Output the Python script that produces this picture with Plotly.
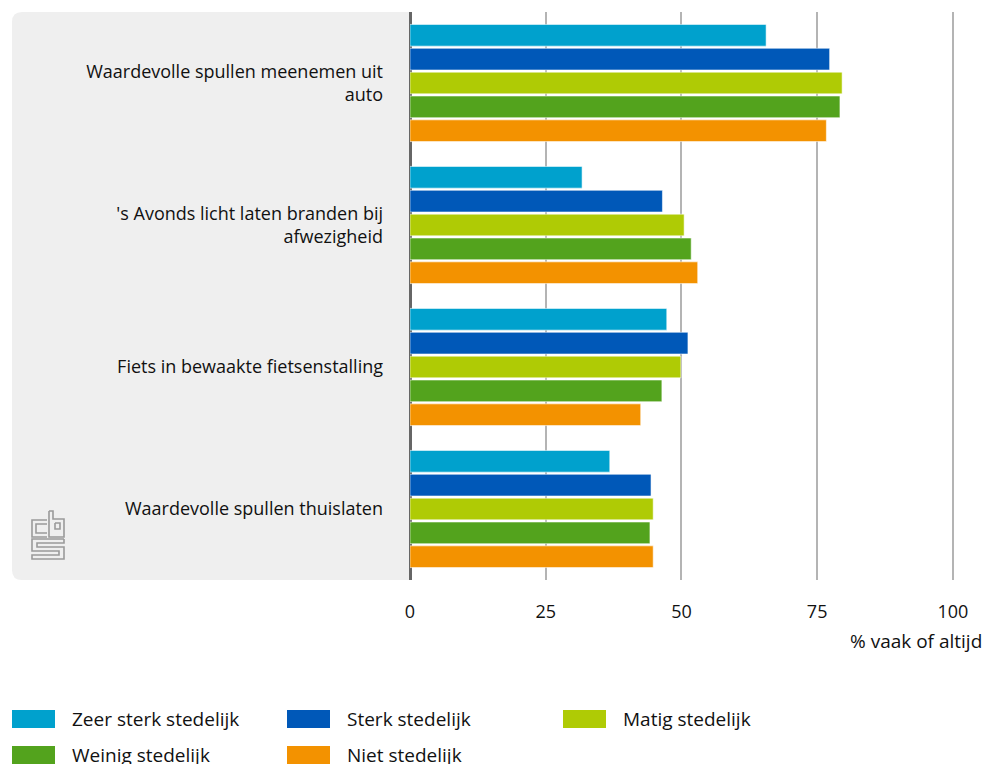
import plotly.graph_objects as go

# ---------------- data ----------------
categories = [
    "Waardevolle spullen meenemen uit<br>auto",
    "'s Avonds licht laten branden bij<br>afwezigheid",
    "Fiets in bewaakte fietsenstalling",
    "Waardevolle spullen thuislaten",
]
series_names = ["Zeer sterk stedelijk", "Sterk stedelijk", "Matig stedelijk",
                "Weinig stedelijk", "Niet stedelijk"]
zeer_sterk = [65.6, 31.7, 47.3, 36.8]
sterk = [77.3, 46.5, 51.2, 44.4]
matig = [79.6, 50.5, 49.9, 44.8]
weinig = [79.2, 51.8, 46.4, 44.2]
niet = [76.7, 53.0, 42.5, 44.8]
x_ticks = [0, 25, 50, 75, 100]
x_title = "% vaak of altijd"

series_values = [zeer_sterk, sterk, matig, weinig, niet]
colors = ["#00a1cd", "#0058b8", "#afcb05", "#53a31d", "#f39200"]

FONT = "Open Sans"
TXT = "#111111"
W, H = 992, 764
L, R, T, B = 410, 980, 12, 580


def px(x):
    return (x - L) / (R - L)


def py(y):
    return (B - y) / (B - T)


fig = go.Figure()
for name, vals, col in zip(series_names, series_values, colors):
    fig.add_trace(go.Bar(
        y=categories, x=vals, name=name, orientation="h",
        marker=dict(color=col, line=dict(color="rgba(255,255,255,0.55)", width=1)),
        showlegend=False,
        hovertemplate="%{y}<br>" + name + ": %{x}<extra></extra>",
    ))

shapes = []
# grey rounded panel behind category labels
r = 10
x0, x1, y0, y1 = px(12), px(L), py(T), py(B)
rx = r / (R - L)
ry = r / (B - T)
panel = (f"M {x1},{y0} L {x0 + rx},{y0} Q {x0},{y0} {x0},{y0 - ry} "
         f"L {x0},{y1 + ry} Q {x0},{y1} {x0 + rx},{y1} L {x1},{y1} Z")
shapes.append(dict(type="path", xref="paper", yref="paper", path=panel,
                   fillcolor="#efefef", line=dict(width=0), layer="below"))


def pathpx(pts):
    return "M " + " L ".join(f"{px(a)},{py(b)}" for a, b in pts)


logo_paths = [
    # c
    [(47, 520), (32, 520), (32, 537), (47, 537)],
    [(47, 524), (36, 524), (36, 533), (47, 533)],
    # b
    [(49, 511), (49, 537), (64, 537), (64, 519), (53, 519), (53, 511), (49, 511)],
    [(55, 523), (60, 523), (60, 529), (55, 529), (55, 523)],
    # s
    [(64, 539), (32, 539), (32, 551), (59, 551), (59, 555), (32, 555), (32, 559),
     (64, 559), (64, 547), (37, 547), (37, 543), (64, 543), (64, 539)],
]
for p in logo_paths:
    shapes.append(dict(type="path", xref="paper", yref="paper", path=pathpx(p),
                       line=dict(color="#9a9a9a", width=1.6)))

annotations = []
# custom legend
leg_cols = [12, 287, 563]
leg_rows = [719, 755]
for i, (name, col) in enumerate(zip(series_names, colors)):
    cx = leg_cols[i % 3]
    cy = leg_rows[i // 3]
    shapes.append(dict(type="rect", xref="paper", yref="paper",
                       x0=px(cx), x1=px(cx + 43), y0=py(cy - 9), y1=py(cy + 9),
                       fillcolor=col, line=dict(width=0)))
    annotations.append(dict(text=name, xref="paper", yref="paper",
                            x=px(cx + 58), y=py(cy), xanchor="left", yanchor="middle",
                            showarrow=False, font=dict(family=FONT, size=19, color=TXT)))

annotations.append(dict(text=x_title, xref="paper", yref="paper",
                        x=px(984), y=py(641), xanchor="right", yanchor="middle",
                        showarrow=False, font=dict(family=FONT, size=19, color=TXT)))

fig.update_layout(
    width=W, height=H,
    margin=dict(l=L, r=W - R, t=T, b=H - B),
    paper_bgcolor="white", plot_bgcolor="white",
    barmode="group", bargap=0.16, bargroupgap=0.09,
    font=dict(family=FONT, size=18, color=TXT),
    shapes=shapes, annotations=annotations,
    xaxis=dict(range=[0, 105], tickvals=x_ticks, showgrid=True,
               gridcolor="#b4b4b4", gridwidth=1.5,
               zeroline=True, zerolinecolor="#666666", zerolinewidth=3,
               showline=False, ticks="", ticklabelstandoff=19,
               tickfont=dict(family=FONT, size=18, color=TXT), fixedrange=True),
    yaxis=dict(autorange="reversed", showgrid=False, zeroline=False, showline=False,
               ticks="", ticklabelstandoff=26,
               tickfont=dict(family=FONT, size=18, color=TXT), fixedrange=True),
)

fig.write_html("out.html", config={"displayModeBar": False},
               post_script="document.body.style.margin='0';document.body.style.overflow='hidden';")
